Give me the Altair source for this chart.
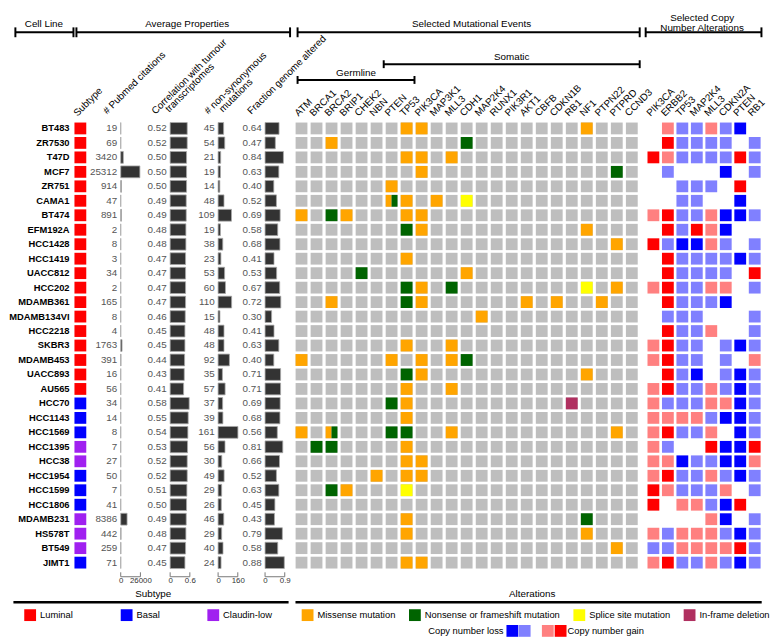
import altair as alt
import pandas as pd

FONT = "Liberation Sans"

# ---------------- data ----------------
cell_lines = ["BT483", "ZR7530", "T47D", "MCF7", "ZR751", "CAMA1", "BT474", "EFM192A",
              "HCC1428", "HCC1419", "UACC812", "HCC202", "MDAMB361", "MDAMB134VI", "HCC2218",
              "SKBR3", "MDAMB453", "UACC893", "AU565", "HCC70", "HCC1143", "HCC1569",
              "HCC1395", "HCC38", "HCC1954", "HCC1599", "HCC1806", "MDAMB231", "HS578T",
              "BT549", "JIMT1"]
subtypes = (["Luminal"] * 19 + ["Basal"] * 3 + ["Claudin-low"] * 2 + ["Basal"] * 3
            + ["Claudin-low"] * 3 + ["Basal"])
pubmed = [19, 69, 3420, 25312, 914, 47, 891, 2, 8, 3, 34, 2, 165, 8, 4, 1763, 391, 16, 56,
          34, 14, 8, 7, 27, 50, 7, 41, 8386, 442, 259, 71]
correlation = [0.52, 0.52, 0.50, 0.50, 0.50, 0.49, 0.49, 0.48, 0.48, 0.47, 0.47, 0.47, 0.47,
               0.46, 0.45, 0.45, 0.44, 0.43, 0.41, 0.58, 0.55, 0.54, 0.53, 0.52, 0.52, 0.51,
               0.50, 0.49, 0.48, 0.47, 0.45]
nonsyn = [45, 54, 21, 19, 14, 48, 109, 19, 38, 23, 53, 60, 110, 15, 48, 48, 92, 35, 57, 37,
          39, 161, 56, 30, 49, 29, 26, 46, 29, 40, 24]
fraction = [0.64, 0.47, 0.84, 0.63, 0.40, 0.52, 0.69, 0.58, 0.68, 0.41, 0.53, 0.67, 0.72,
            0.30, 0.41, 0.63, 0.40, 0.71, 0.71, 0.69, 0.68, 0.56, 0.81, 0.66, 0.52, 0.63,
            0.45, 0.43, 0.79, 0.58, 0.88]

subtype_names = ["Luminal", "Basal", "Claudin-low"]
subtype_colors = ["#ff0000", "#0000ff", "#a020f0"]

mut_genes = ["ATM", "BRCA1", "BRCA2", "BRIP1", "CHEK2", "NBN", "PTEN", "TP53", "PIK3CA",
             "MAP3K1", "MLL3", "CDH1", "MAP2K4", "RUNX1", "PIK3R1", "AKT1", "CBFB", "CDKN1B",
             "RB1", "NF1", "PTPN22", "PTPRD", "CCND3"]
mut_codes = ["M", "N", "S", "D"]
mut_types = ["Missense mutation", "Nonsense or frameshift mutation", "Splice site mutation",
             "In-frame deletion"]
mut_colors = ["#ffa500", "#006400", "#ffff00", "#b03060"]
mutations = [
    ("BT483", "TP53", "M"), ("BT483", "PIK3CA", "M"), ("BT483", "NF1", "M"),
    ("ZR7530", "BRCA2", "M"), ("ZR7530", "CDH1", "N"),
    ("T47D", "TP53", "M"), ("T47D", "PIK3CA", "M"), ("T47D", "MLL3", "M"),
    ("MCF7", "PIK3CA", "M"), ("MCF7", "PTPRD", "N"),
    ("ZR751", "PTEN", "M"),
    ("CAMA1", "PTEN", "M"), ("CAMA1", "PTEN", "N"), ("CAMA1", "TP53", "M"),
    ("CAMA1", "MAP3K1", "M"), ("CAMA1", "CDH1", "S"),
    ("BT474", "ATM", "M"), ("BT474", "BRCA2", "N"), ("BT474", "BRIP1", "M"),
    ("BT474", "TP53", "M"), ("BT474", "PIK3CA", "M"),
    ("EFM192A", "TP53", "N"), ("EFM192A", "PIK3CA", "M"), ("EFM192A", "NF1", "M"),
    ("HCC1428", "PTPRD", "M"),
    ("HCC1419", "TP53", "M"),
    ("UACC812", "CHEK2", "N"), ("UACC812", "CDH1", "M"),
    ("HCC202", "TP53", "N"), ("HCC202", "PIK3CA", "M"), ("HCC202", "MLL3", "N"),
    ("HCC202", "NF1", "S"), ("HCC202", "PTPRD", "M"),
    ("MDAMB361", "BRCA2", "M"), ("MDAMB361", "TP53", "N"), ("MDAMB361", "PIK3CA", "M"),
    ("MDAMB361", "AKT1", "M"), ("MDAMB361", "CDKN1B", "M"), ("MDAMB361", "PTPN22", "M"),
    ("MDAMB134VI", "MAP2K4", "M"),
    ("SKBR3", "TP53", "M"), ("SKBR3", "MLL3", "M"),
    ("MDAMB453", "ATM", "M"), ("MDAMB453", "PTEN", "M"), ("MDAMB453", "PIK3CA", "M"),
    ("MDAMB453", "MLL3", "M"), ("MDAMB453", "CDH1", "N"),
    ("UACC893", "TP53", "N"), ("UACC893", "PIK3CA", "M"), ("UACC893", "NF1", "M"),
    ("AU565", "TP53", "M"), ("AU565", "MLL3", "M"),
    ("HCC70", "PTEN", "N"), ("HCC70", "TP53", "M"), ("HCC70", "RB1", "D"),
    ("HCC1143", "TP53", "M"),
    ("HCC1569", "ATM", "M"), ("HCC1569", "BRCA2", "M"), ("HCC1569", "BRCA2", "N"),
    ("HCC1569", "PTEN", "N"), ("HCC1569", "TP53", "N"), ("HCC1569", "MLL3", "M"),
    ("HCC1569", "PTPRD", "M"),
    ("HCC1395", "BRCA1", "N"), ("HCC1395", "BRCA2", "N"), ("HCC1395", "TP53", "M"),
    ("HCC38", "TP53", "M"), ("HCC38", "PIK3CA", "M"),
    ("HCC1954", "NBN", "M"), ("HCC1954", "TP53", "M"), ("HCC1954", "PIK3CA", "M"),
    ("HCC1599", "BRCA2", "N"), ("HCC1599", "BRIP1", "M"), ("HCC1599", "TP53", "S"),
    ("MDAMB231", "TP53", "M"), ("MDAMB231", "NF1", "N"),
    ("HS578T", "TP53", "M"), ("HS578T", "NF1", "M"),
    ("BT549", "PTPRD", "M"),
    ("JIMT1", "TP53", "M"), ("JIMT1", "PIK3CA", "M"),
]

cna_genes = ["PIK3CA", "ERBB2", "TP53", "MAP2K4", "MLL3", "CDKN2A", "PTEN", "RB1"]
cna_levels = [-2, -1, 1, 2]
cna_colors = ["#0000ff", "#8080ff", "#ff8080", "#ff0000"]
cna_values = [
    [0, 1, -1, -1, 1, -1, -2, 0],      # BT483
    [0, 2, -1, -1, -1, -1, 0, -1],     # ZR7530
    [2, 1, -1, -1, -1, -1, 2, -1],     # T47D
    [0, -1, 0, 0, 0, -2, 0, -1],       # MCF7
    [0, 0, -1, -1, -1, 0, 2, 0],       # ZR751
    [0, 0, -1, -1, 0, 0, -2, 0],       # CAMA1
    [1, 2, -1, -1, 1, -2, -2, -1],     # BT474
    [0, 2, -1, 2, 1, -2, 0, 0],        # EFM192A
    [2, -1, -2, -2, 1, -1, 0, -1],     # HCC1428
    [0, 2, -1, -1, -1, -1, -2, -1],    # HCC1419
    [0, 2, -1, -1, -1, -1, 0, 2],      # UACC812
    [1, 2, -1, -1, 1, 1, 0, -1],       # HCC202
    [0, 2, -1, -1, -1, -2, 0, 0],      # MDAMB361
    [0, -1, -1, -1, 0, 0, 0, -1],      # MDAMB134VI
    [0, 2, -1, -1, 1, 0, 0, -1],       # HCC2218
    [1, 2, -1, -1, 0, -1, -2, -1],     # SKBR3
    [1, 2, -1, -1, 0, -1, 0, 1],       # MDAMB453
    [0, 2, -1, -2, 0, -1, -2, -1],     # UACC893
    [1, 2, -1, -1, 1, -1, -2, -1],     # AU565
    [1, -1, -1, -1, 1, 1, -2, -1],     # HCC70
    [1, 1, 1, 1, -1, -2, -2, -1],      # HCC1143
    [1, 2, -1, -1, 1, 0, -2, -1],      # HCC1569
    [1, -1, 0, 0, 2, -2, -2, 2],       # HCC1395
    [1, 1, -2, -1, -1, -2, -2, 1],     # HCC38
    [1, 2, -1, -1, 1, -1, -2, -1],     # HCC1954
    [2, 1, -1, -1, -1, 1, 0, -1],      # HCC1599
    [2, 0, 1, 1, -1, -2, 2, 0],        # HCC1806
    [0, 0, 0, 0, 1, -2, 0, -1],        # MDAMB231
    [1, -1, 1, 1, 1, -1, -2, -1],      # HS578T
    [-1, -1, 1, 1, 1, 1, 2, -1],       # BT549
    [1, 2, -1, -1, 1, -1, -2, -1],     # JIMT1
]

# axis end values for the property bars
pubmed_max, corr_max, nonsyn_max, frac_max = 26000, 0.6, 160, 0.9

# ---------------- tables ----------------
props = pd.DataFrame({"cell": cell_lines, "subtype": subtypes, "pubmed": pubmed,
                      "corr": correlation, "nonsyn": nonsyn, "frac": fraction,
                      "col": "Subtype"})
grid = pd.DataFrame([(c, g) for c in cell_lines for g in mut_genes], columns=["cell", "gene"])
mut_df = pd.DataFrame(mutations, columns=["cell", "gene", "code"])
mut_df["type"] = mut_df["code"].map(dict(zip(mut_codes, mut_types)))
mut_df["n"] = mut_df.groupby(["cell", "gene"])["code"].transform("count")
mut_df["part"] = mut_df.groupby(["cell", "gene"]).cumcount().map({0: "a", 1: "b"})
single_df = mut_df[mut_df["n"] == 1]
split_df = mut_df[mut_df["n"] > 1]
cna_df = pd.DataFrame([(c, g, v) for c, vals in zip(cell_lines, cna_values)
                       for g, v in zip(cna_genes, vals) if v != 0],
                      columns=["cell", "gene", "level"])
ONE = pd.DataFrame({"k": [0]})

# ---------------- layout ----------------
ROW = 14.7
H = ROW * len(cell_lines)
MUT_STEP, CNA_STEP = 15.25, 14.7
MUT_W = MUT_STEP * len(mut_genes)
CNA_W = CNA_STEP * len(cna_genes)
GAP = 6.7
PI_Y = 1 - 12 / ROW


def Y(axis=None):
    return alt.Y("cell:N", scale=alt.Scale(domain=cell_lines, paddingInner=PI_Y,
                                           paddingOuter=PI_Y / 2), axis=axis)


def top_axis():
    return alt.Axis(orient="top", labelAngle=-45, labelAlign="left",
                    labelBaseline="alphabetic", labelPadding=5, labelOffset=-3,
                    ticks=False, domain=False, title=None, labelFontSize=10,
                    labelColor="black", labelFont=FONT, labelOverlap=False)


def txt(text, x, y, size=10, align="center", angle=0, baseline="middle", color="black"):
    return alt.Chart(ONE).mark_text(text=text, fontSize=size, align=align, angle=angle,
                                    baseline=baseline, font=FONT, color=color).encode(
        x=alt.value(x), y=alt.value(y))


def hline(x1, x2, y, w=2):
    return alt.Chart(ONE).mark_rule(color="black", strokeWidth=w).encode(
        x=alt.value(x1), x2=alt.value(x2), y=alt.value(y))


def bracket(x1, x2, y, cap=5):
    caps = [alt.Chart(ONE).mark_rule(color="black", strokeWidth=2).encode(
        x=alt.value(xx), y=alt.value(y - cap), y2=alt.value(y + cap)) for xx in (x1, x2)]
    return [hline(x1, x2, y)] + caps


TITLE_Y, BR_Y = -98.5, -90.3
LEG_T, LEG_L, LEG_I, LEG_C = H + 25, H + 33, H + 46, H + 62

# ---------------- subtype panel ----------------
left_axis = alt.Axis(orient="left", ticks=False, domain=False, title=None,
                     labelFontSize=9.5, labelFontWeight="bold", labelColor="black",
                     labelFont=FONT, labelPadding=4)
sub_rect = alt.Chart(props).mark_rect().encode(
    x=alt.X("col:N", scale=alt.Scale(domain=["Subtype"], paddingInner=0.2, paddingOuter=0.1),
            axis=top_axis()),
    y=Y(left_axis),
    color=alt.Color("subtype:N", scale=alt.Scale(domain=subtype_names, range=subtype_colors),
                    legend=alt.Legend(orient="none", legendX=-49.5, legendY=LEG_I - 6,
                                      direction="horizontal", title=None, symbolType="square",
                                      symbolSize=144, symbolStrokeWidth=0, labelFontSize=9.5,
                                      labelFont=FONT, labelColor="black", columnPadding=48,
                                      labelOffset=4, padding=0)))
sub_layers = [sub_rect,
              txt("Cell Line", -29.5, TITLE_Y), *bracket(-58.5, 0.5, BR_Y),
              txt("Average Properties", 116, TITLE_Y), *bracket(3.5, 220.5, BR_Y),
              txt("Subtype", 81.5, LEG_T), hline(-60.5, 219, LEG_L, 2.5)]
sub_panel = alt.layer(*sub_layers).properties(width=15, height=H)


# ---------------- property bar panels ----------------
def bar_panel(field, fmt, dmax, width, r0, headers):
    sc = alt.Scale(domain=[0, dmax], range=[r0, r0 + 20], nice=False, zero=True)
    ax = alt.Axis(orient="bottom", values=[0, dmax], domain=False, ticks=False, grid=False,
                  title=None, labelFontSize=8, labelColor="#333333", labelFont=FONT,
                  labelPadding=7, labelFlush=False, labelOverlap=False,
                  labelExpr="toString(datum.value)")
    bars = alt.Chart(props).mark_bar(color="#333333", stroke="#aaaaaa", strokeWidth=0.8).encode(
        x=alt.X(f"{field}:Q", scale=sc, axis=ax), y=Y())
    vals = alt.Chart(props).transform_calculate(zero="0").mark_text(
        align="right", baseline="middle", dx=-3.5, fontSize=10, font=FONT,
        color="#555555").encode(
        x=alt.X("zero:Q", scale=sc, axis=ax), y=Y(),
        text=alt.Text(f"{field}:Q", format=fmt))
    tick_df = pd.DataFrame({"v": [0, dmax]})
    ticks = alt.Chart(tick_df).mark_rule(color="#777777", strokeWidth=1).encode(
        x=alt.X("v:Q", scale=sc, axis=ax), y=alt.value(H + 2.5), y2=alt.value(H + 7))
    base_df = pd.DataFrame({"v0": [0], "v1": [dmax]})
    baseline = alt.Chart(base_df).mark_rule(color="#777777", strokeWidth=1).encode(
        x=alt.X("v0:Q", scale=sc, axis=ax), x2="v1:Q", y=alt.value(H + 7))
    heads = [txt(t, r0 + dx, dy, align="left", angle=315, baseline="alphabetic")
             for t, dx, dy in headers]
    return alt.layer(bars, vals, ticks, baseline, *heads).properties(width=width, height=H)


# panels are separated by GAP; each bar range is placed inside its panel
pub_panel = bar_panel("pubmed", "d", pubmed_max, 46.8, 26.8,
                      [("# Pubmed citations", -14, -6.6)])
corr_panel = bar_panel("corr", ".2f", corr_max, 43.3, 23.3,
                       [("Correlation with tumour", -15, -6.6), ("transcriptomes", -1, -8.6)])
nons_panel = bar_panel("nonsyn", "d", nonsyn_max, 41.3, 21.3,
                       [("# non-synonymous", -10, -6.6), ("mutations", 5, -8.6)])
frac_panel = bar_panel("frac", ".2f", frac_max, 42.8, 20.3,
                       [("Fraction genome altered", -14, -6.6)])

# ---------------- mutation grid ----------------
mut_po = 0.1065
mx_scale = alt.Scale(domain=mut_genes, paddingInner=0.213, paddingOuter=mut_po)
mut_axis = top_axis()
mut_color = alt.Color("type:N", scale=alt.Scale(domain=mut_types, range=mut_colors),
                      legend=alt.Legend(orient="none", legendX=7.8, legendY=LEG_I - 6,
                                        direction="horizontal", title=None,
                                        symbolType="square", symbolSize=144,
                                        symbolStrokeWidth=0, labelFontSize=9.5,
                                        labelFont=FONT, labelColor="black", columnPadding=13,
                                        labelOffset=4, padding=0))
gray = alt.Chart(grid).mark_rect(color="#bebebe").encode(
    x=alt.X("gene:N", scale=mx_scale, axis=mut_axis), y=Y())
single = alt.Chart(single_df).mark_rect().encode(
    x=alt.X("gene:N", scale=mx_scale, axis=mut_axis), y=Y(), color=mut_color)
split = alt.Chart(split_df).mark_rect().encode(
    x=alt.X("gene:N", scale=mx_scale, axis=mut_axis),
    xOffset=alt.XOffset("part:N", scale=alt.Scale(domain=["a", "b"], paddingInner=0,
                                                   paddingOuter=0)),
    y=Y(), color=mut_color)

band0 = mut_po * MUT_STEP
band = MUT_STEP * (1 - 0.213)
g_start = band0 + 2
g_end = band0 + 7 * MUT_STEP + band + 2
s_start = band0 + 6 * MUT_STEP - 2
all_end = MUT_W - band0 + 2
alt_end = MUT_W + GAP + CNA_W

mut_layers = [gray, single, split,
              txt("Selected Mutational Events", (g_start + all_end) / 2 + 3, TITLE_Y),
              *bracket(g_start, all_end, BR_Y),
              txt("Somatic", (s_start + all_end) / 2, -65.3), *bracket(s_start, all_end, -57.9, 4),
              txt("Germline", (g_start + g_end) / 2, -48.5), *bracket(g_start, g_end, -41.9, 4),
              txt("Alterations", 242, LEG_T), hline(1.5, alt_end, LEG_L, 2.5),
              txt("Copy number loss", 212.8, LEG_C, size=9.5, align="right")]
for xx, col in zip([221.8, 234.3, 257.8, 270.8], cna_colors):
    mut_layers.append(alt.Chart(ONE).mark_square(size=144, opacity=1, filled=True,
                                                 color=col).encode(
        x=alt.value(xx), y=alt.value(LEG_C)))
mut_layers.append(txt("Copy number gain", 277.8, LEG_C, size=9.5, align="left"))
mut_panel = alt.layer(*mut_layers).properties(width=MUT_W, height=H)

# ---------------- copy number grid ----------------
cna_axis = top_axis()
cna_rect = alt.Chart(cna_df).mark_rect().encode(
    x=alt.X("gene:N", scale=alt.Scale(domain=cna_genes, paddingInner=0.184, paddingOuter=0.092),
            axis=cna_axis),
    y=Y(),
    color=alt.Color("level:O", scale=alt.Scale(domain=cna_levels, range=cna_colors),
                    legend=None))
cna_layers = [cna_rect,
              txt("Selected Copy", CNA_W / 2 - 2, -105),
              txt("Number Alterations", CNA_W / 2 - 2, -94.5),
              *bracket(-0.5, CNA_W - 0.5, BR_Y)]
cna_panel = alt.layer(*cna_layers).properties(width=CNA_W, height=H)

# ---------------- assemble ----------------
main = alt.hconcat(sub_panel, pub_panel, corr_panel, nons_panel, frac_panel, mut_panel,
                   cna_panel, spacing=GAP, bounds="flush").resolve_scale(color="independent")

chart = main.properties(
    padding={"left": 0, "top": 0, "right": 0, "bottom": 0},
    background="white",
).configure(font=FONT).configure_view(stroke=None).configure_axis(labelFont=FONT)

chart.save("out.html", embed_options={"renderer": "svg", "actions": False})
